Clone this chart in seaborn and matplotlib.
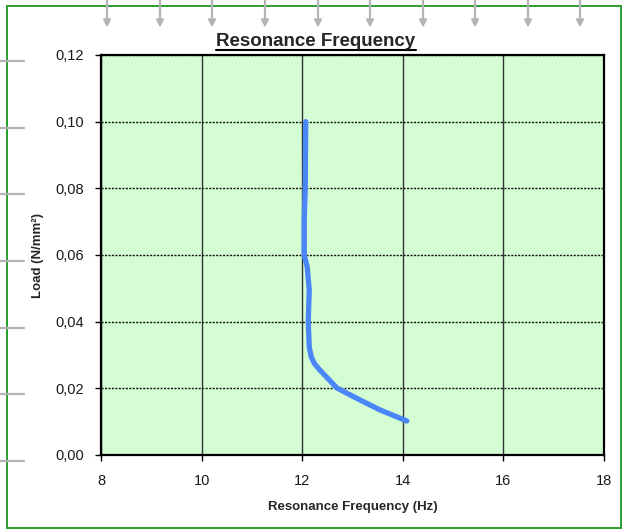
import matplotlib
matplotlib.use("Agg")
import matplotlib.pyplot as plt
from matplotlib.lines import Line2D
import pandas as pd
import seaborn as sns

# values
frequency_hz = [14.08, 13.55, 13.15, 12.69, 12.35, 12.24, 12.18, 12.14, 12.12, 12.14, 12.10, 12.04, 12.04, 12.06, 12.07]
load_nmm2 = [0.0102, 0.0135, 0.0165, 0.0201, 0.0255, 0.0275, 0.0294, 0.0324, 0.0400, 0.0495, 0.0564, 0.0600, 0.0705, 0.0800, 0.1000]

x_ticks = [8, 10, 12, 14, 16, 18]
y_ticks = [0.00, 0.02, 0.04, 0.06, 0.08, 0.10, 0.12]
y_tick_labels = ["0,00", "0,02", "0,04", "0,06", "0,08", "0,10", "0,12"]

df = pd.DataFrame({"freq": frequency_hz, "load": load_nmm2})

sns.set_style("white")
plt.rcParams["font.family"] = ["Liberation Sans", "DejaVu Sans"]

fig = plt.figure(figsize=(6.24, 5.32), dpi=100)
ax = fig.add_axes([101 / 624, 1 - 455 / 532, 503 / 624, 400 / 532])
ax.set_facecolor("#d4fdd4")

sns.lineplot(data=df, x="freq", y="load", sort=False, estimator=None, ax=ax,
             color="#4a86f8", linewidth=3.8, solid_capstyle="round",
             solid_joinstyle="round", zorder=3)

ax.set_xlim(8, 18)
ax.set_ylim(0, 0.12)
ax.set_xticks(x_ticks)
ax.set_yticks(y_ticks)
ax.set_yticklabels(y_tick_labels)
ax.tick_params(axis="both", labelsize=10.5, colors="black", length=4, width=1,
               direction="out", left=True, bottom=True)
ax.tick_params(axis="x", pad=10)
ax.tick_params(axis="y", pad=8)
for lab in ax.get_xticklabels() + ax.get_yticklabels():
    lab.set_color("#1a1a1a")

ax.xaxis.grid(True, color="#333333", linewidth=1.0, linestyle="-")
ax.yaxis.grid(True, color="#111111", linewidth=1.0, linestyle=(0, (1.5, 1)))
ax.set_axisbelow(True)
for sp in ax.spines.values():
    sp.set_visible(True)
    sp.set_color("black")
    sp.set_linewidth(1.6)

ax.set_xlabel("Resonance Frequency (Hz)", fontsize=9.5, fontweight="bold", labelpad=9)
ax.set_ylabel("Load (N/mm²)", fontsize=9.5, fontweight="bold", labelpad=8)

# underlined title
title = fig.text(316 / 624, 1 - 41 / 532, "Resonance Frequency", ha="center",
                 va="center", fontsize=13.5, fontweight="bold")
fig.canvas.draw()
bb = title.get_window_extent(fig.canvas.get_renderer()).transformed(fig.transFigure.inverted())
fig.add_artist(Line2D([bb.x0, bb.x1], [bb.y0 - 0.001, bb.y0 - 0.001],
                      transform=fig.transFigure, color="black", linewidth=1.5))

# green outer frame
fig.add_artist(plt.Rectangle((7 / 624, 1 - 528 / 532), 614 / 624, 522 / 532,
                             transform=fig.transFigure, fill=False,
                             edgecolor="#2e9e2e", linewidth=1.4))

# grey ruler marks
for yp in [61, 128, 194, 261, 328, 394, 461]:
    fig.add_artist(Line2D([0, 24 / 624], [1 - yp / 532] * 2, transform=fig.transFigure,
                          color="#b4b4b4", linewidth=1.6))
for xp in [107, 160, 212, 265, 318, 370, 423, 475, 528, 580]:
    fig.add_artist(Line2D([xp / 624] * 2, [1.0, 1 - 20 / 532], transform=fig.transFigure,
                          color="#b4b4b4", linewidth=1.6))
    fig.add_artist(plt.Polygon([[(xp - 3.5) / 624, 1 - 19 / 532],
                                [(xp + 3.5) / 624, 1 - 19 / 532],
                                [xp / 624, 1 - 26 / 532]],
                               transform=fig.transFigure, color="#b4b4b4"))

fig.savefig("out.png", dpi=100)
